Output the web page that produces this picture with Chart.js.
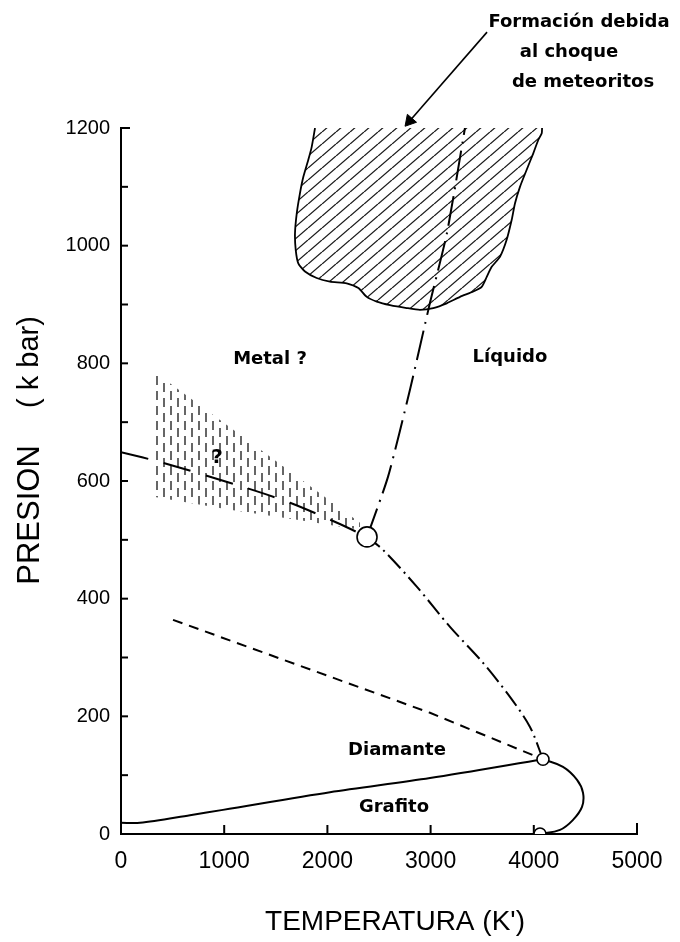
<!DOCTYPE html>
<html><head><meta charset="utf-8">
<script src="https://cdn.jsdelivr.net/npm/chart.js@4/dist/chart.umd.min.js"></script>
<style>html,body{margin:0;padding:0;background:#fff}canvas{display:block}</style>
</head><body>
<canvas id="c" width="680" height="942"></canvas>
<script>
// ---- data (T in K, P in kbar) ----
const xTickValues = [0,1000,2000,3000,4000,5000];
const yTickValues = [0,200,400,600,800,1000,1200];

const grafitoDiamanteT = [0,184,669,988,2025,2994,4089];
const grafitoDiamanteP = [19,19,32,41,71,95,127];

const fusionGrafitoT = [4089,4283,4419,4477,4467,4380,4254,4060];
const fusionGrafitoP = [127,114,92,70,46,24,7,0];

const fusionDiamanteT = [4089,3963,3769,3508,3188,2868,2539,2384];
const fusionDiamanteP = [127,182,233,291,352,420,483,505];

const fusionMetalT = [2384,2587,2800,2994,3159,3333];
const fusionMetalP = [505,607,755,903,1022,1200];

const diamanteMetalT = [0,407,1182,1638,2093,2384];
const diamanteMetalP = [649,631,590,563,529,505];

const metaestableT = [504,2994,4089];
const metaestableP = [364,206,127];

const incertidumbreT = [329,2316,2316,1705,1056,329];
const incertidumbreP = [785,529,517,534,551,573];

const meteoritosT = [1880,1848,1815,1767,1734,1703,1686,1693,1718,1783,1896,2025,2187,2300,2381,2478,2607,2768,2897,3026,3156,3285,3414,3495,3544,3592,3672,3737,3786,3818,3866,3931,3995,4044,4077,4080];
const meteoritosP = [1200,1168,1146,1117,1089,1055,1021,993,970,956,945,939,936,928,913,905,899,894,891,894,902,913,922,930,947,964,981,1010,1044,1072,1100,1129,1157,1180,1191,1200];

const puntosTriplesT = [2384,4089,4060];
const puntosTriplesP = [505,127,0];

const flechaT = [3547,2797];
const flechaP = [1363,1212];

const etiquetas = [
  {text:'Metal ?', t:1444, p:807, size:18},
  {text:'Líquido', t:3769, p:811, size:18},
  {text:'?', t:930, p:639, size:20},
  {text:'Diamante', t:2674, p:143, size:18},
  {text:'Grafito', t:2645, p:46, size:18},
  {text:'Formación debida', t:4438, p:1379, size:18},
  {text:'al choque', t:4341, p:1328, size:18},
  {text:'de meteoritos', t:4477, p:1278, size:18}
];
const tituloX = 'TEMPERATURA (K\')';
const tituloY1 = 'PRESION';
const tituloY2 = '( k bar)';

// ---- helpers ----
const pts = (T,P) => T.map((t,i)=>({x:t,y:P[i]}));

function hatchPattern(){
  const c=document.createElement('canvas'); const w=14,h=12; c.width=w; c.height=h;
  const g=c.getContext('2d'); g.strokeStyle='#1a1a1a'; g.lineWidth=1.3;
  for(let k=-1;k<=1;k++){ g.beginPath(); g.moveTo(k*w,h); g.lineTo(k*w+w,0); g.stroke(); }
  return g.createPattern(c,'repeat');
}
function dashPattern(){
  const c=document.createElement('canvas'); const w=14,h=15; c.width=w; c.height=h;
  const g=c.getContext('2d'); g.strokeStyle='#666'; g.lineWidth=2;
  g.beginPath(); g.moveTo(3,1); g.lineTo(3,10); g.stroke();
  g.beginPath(); g.moveTo(10,8); g.lineTo(10,15); g.stroke();
  g.beginPath(); g.moveTo(10,0); g.lineTo(10,2); g.stroke();
  return g.createPattern(c,'repeat');
}

const base = {pointRadius:0, borderColor:'#000', borderWidth:2, fill:false, tension:0};

const innerTicks = {
  id:'innerTicks',
  beforeDatasetsDraw(chart){
    const {ctx, scales:{x,y}, chartArea:a} = chart;
    ctx.save(); ctx.strokeStyle='#000'; ctx.lineWidth=2;
    y.ticks.forEach(tk=>{
      if(tk.value===0) return;
      const py=y.getPixelForValue(tk.value);
      const len = tk.value===1200 ? 9 : 7;
      ctx.beginPath(); ctx.moveTo(a.left,py); ctx.lineTo(a.left+len,py); ctx.stroke();
    });
    x.ticks.forEach(tk=>{
      if(tk.value===0) return;
      const px=x.getPixelForValue(tk.value);
      ctx.beginPath(); ctx.moveTo(px,a.bottom); ctx.lineTo(px,a.bottom-(tk.value===5000?11:9)); ctx.stroke();
    });
    ctx.restore();
  }
};

const textos = {
  id:'textos',
  afterDatasetsDraw(chart){
    const {ctx, scales:{x,y}} = chart;
    ctx.save(); ctx.fillStyle='#000'; ctx.textAlign='center'; ctx.textBaseline='middle';
    etiquetas.forEach(e=>{
      ctx.font='bold '+e.size+'px "DejaVu Sans"';
      ctx.fillText(e.text, x.getPixelForValue(e.t), y.getPixelForValue(e.p));
    });
    // axis titles
    ctx.font='28px "Liberation Sans"';
    ctx.fillText(tituloX, 395, 922);
    ctx.translate(30, 0); ctx.rotate(-Math.PI/2);
    ctx.font='31px "Liberation Sans"';
    ctx.fillText(tituloY1, -515, 0);
    ctx.font='29px "Liberation Sans"';
    ctx.fillText(tituloY2, -362, 0);
    ctx.restore();
  }
};

new Chart(document.getElementById('c'), {
  type:'line',
  data:{datasets:[
    {...base, data:pts(flechaT,flechaP), borderWidth:1.6, clip:false,
      pointRadius:[0,7], pointStyle:['circle','triangle'], pointRotation:[0,221],
      pointBackgroundColor:'#000', pointBorderColor:'#000', pointBorderWidth:1},
    {...base, data:pts(puntosTriplesT,puntosTriplesP), showLine:false,
      pointRadius:[10,6,6], pointBackgroundColor:'#fff', pointBorderColor:'#000', pointBorderWidth:1.6},
    {...base, data:pts(grafitoDiamanteT,grafitoDiamanteP), tension:0.3},
    {...base, data:pts(fusionGrafitoT,fusionGrafitoP), tension:0.4},
    {...base, data:pts(fusionDiamanteT,fusionDiamanteP), tension:0.3, borderDash:[18,5,2,5]},
    {...base, data:pts(fusionMetalT,fusionMetalP), tension:0.2, borderDash:[30,7,2,7]},
    {...base, data:pts(diamanteMetalT,diamanteMetalP), tension:0.3, borderDash:[28,16]},
    {...base, data:pts(metaestableT,metaestableP), borderDash:[10,7]},
    {...base, data:pts(incertidumbreT,incertidumbreP), borderWidth:0, fill:'shape', backgroundColor:dashPattern()},
    {...base, data:pts(meteoritosT,meteoritosP), borderWidth:1.8, tension:0.2, fill:'shape', backgroundColor:hatchPattern()}
  ]},
  options:{
    responsive:false, animation:false, devicePixelRatio:1,
    layout:{padding:{left:0,right:43,top:128,bottom:0}},
    plugins:{legend:{display:false}, tooltip:{enabled:false}},
    scales:{
      x:{type:'linear', min:0, max:5000,
        afterFit(s){ s.height=108; },
        afterBuildTicks(s){ s.ticks = xTickValues.map(v=>({value:v})); },
        ticks:{padding:14, color:'#000', font:{family:'Liberation Sans', size:23}, maxRotation:0, autoSkip:false, callback:v=>String(v)},
        grid:{display:false, drawTicks:false},
        border:{display:true, color:'#000', width:2}},
      y:{type:'linear', min:0, max:1200,
        afterFit(s){ s.width=121; },
        ticks:{stepSize:100, padding:11, color:'#000', font:{family:'Liberation Sans', size:20}, autoSkip:false,
          callback:v=> yTickValues.includes(v) ? String(v) : ''},
        grid:{display:false, drawTicks:false},
        border:{display:true, color:'#000', width:2}}
    }
  },
  plugins:[innerTicks, textos]
});
</script>
</body></html>
